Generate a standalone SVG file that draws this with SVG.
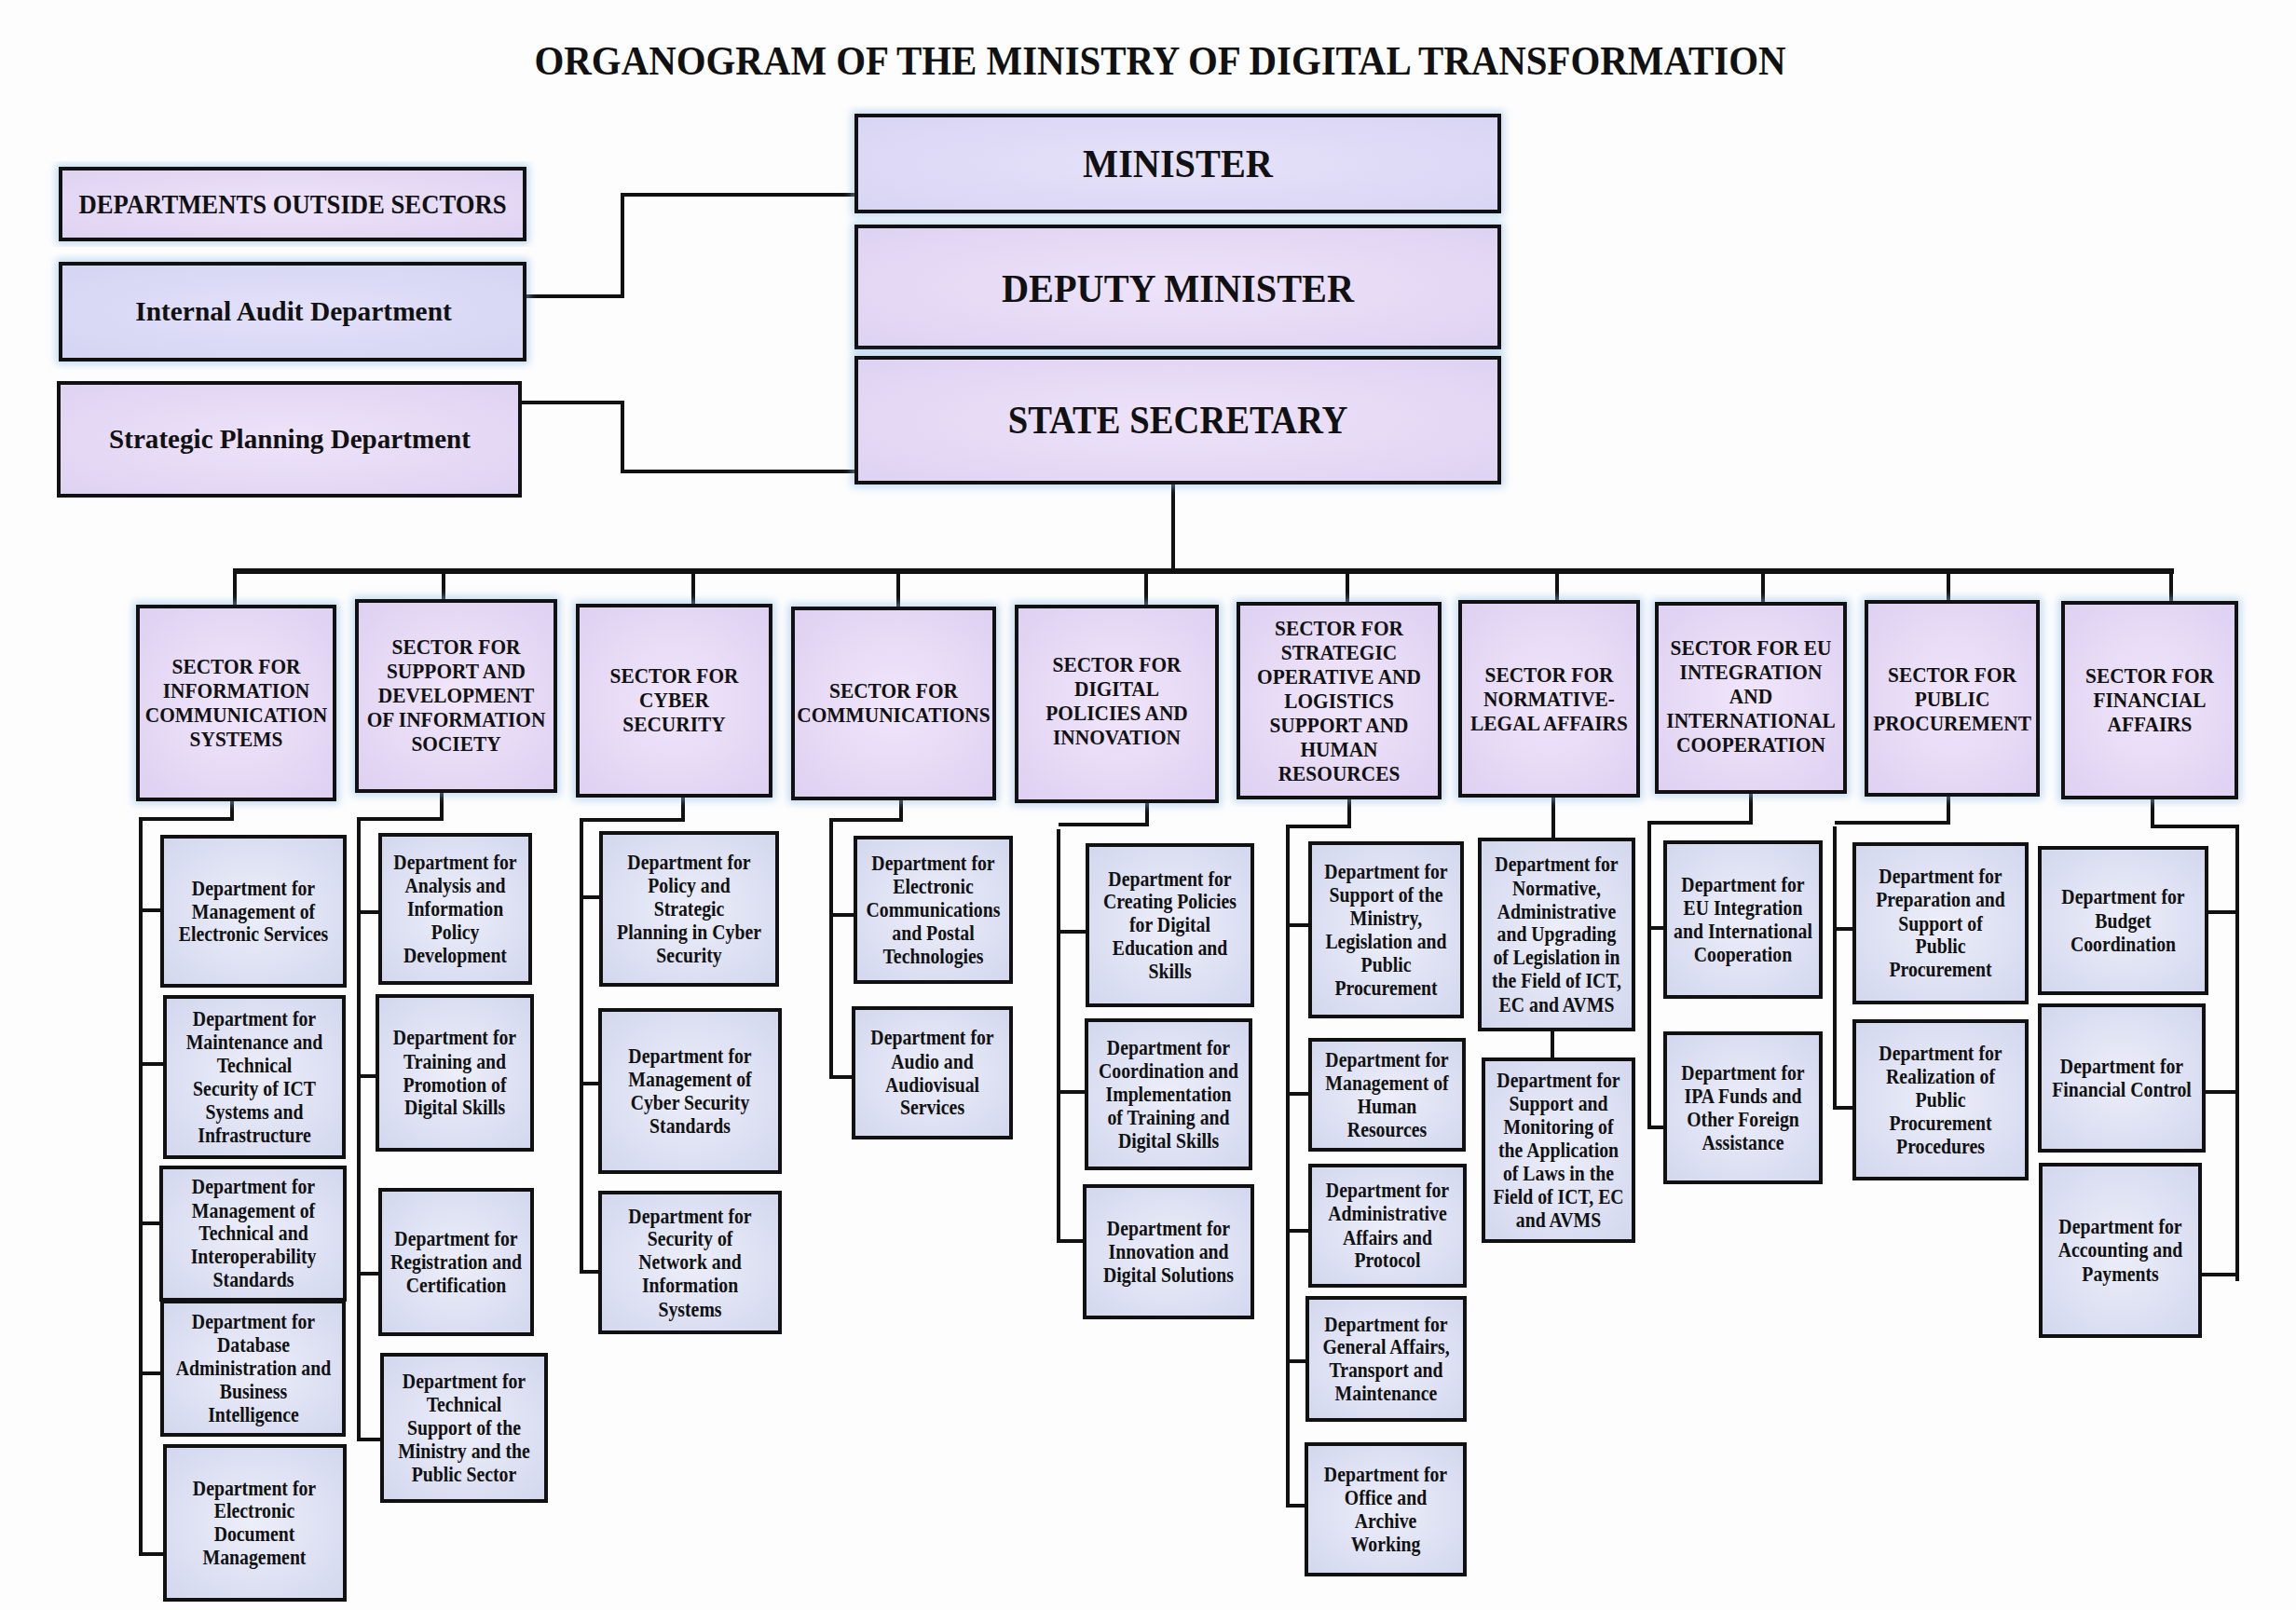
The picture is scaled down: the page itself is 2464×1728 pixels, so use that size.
<svg xmlns="http://www.w3.org/2000/svg" width="2464" height="1728" viewBox="0 0 2464 1728">
<style>
.t{font-family:"Liberation Serif","Times New Roman",serif;font-weight:bold;fill:#111;text-anchor:middle;dominant-baseline:central}
.t tspan{dominant-baseline:central}
.sec{font-size:23px}
.dep{font-size:23px}
.box{stroke:#111;stroke-width:4}
.halo{fill:none;stroke:#8fbce8;stroke-width:10;opacity:.55;filter:url(#glow)}
.con{fill:none;stroke:#111;stroke-width:4;stroke-linejoin:miter}
.bus{fill:none;stroke:#111;stroke-width:6}
</style>
<defs>
<filter id="glow" x="-10%" y="-10%" width="120%" height="120%"><feGaussianBlur stdDeviation="4"/></filter>
<radialGradient id="gDep" cx="50%" cy="50%" r="70%"><stop offset="0" stop-color="#eceef9"/><stop offset="1" stop-color="#d3d7ee"/></radialGradient>
<radialGradient id="gSec" cx="50%" cy="50%" r="70%"><stop offset="0" stop-color="#f1e6fb"/><stop offset="1" stop-color="#ddd0f1"/></radialGradient>
<radialGradient id="gMin" cx="50%" cy="50%" r="70%"><stop offset="0" stop-color="#e6e2f9"/><stop offset="1" stop-color="#d8d4f4"/></radialGradient>
<radialGradient id="gPur" cx="50%" cy="50%" r="70%"><stop offset="0" stop-color="#eee3f9"/><stop offset="1" stop-color="#ded2f2"/></radialGradient>
<radialGradient id="gAud" cx="50%" cy="50%" r="70%"><stop offset="0" stop-color="#e3e1f9"/><stop offset="1" stop-color="#d4d4f3"/></radialGradient>
</defs>
<rect width="2464" height="1728" fill="#fdfdfd"/>

<text class="t" x="1245" y="65" font-size="45" textLength="1343" lengthAdjust="spacingAndGlyphs">ORGANOGRAM OF THE MINISTRY OF DIGITAL TRANSFORMATION</text>

<g id="connectors">
<polyline class="con" points="563,318 668,318 668,209 919,209"/>
<polyline class="con" points="558,432 668,432 668,506 919,506"/>
<line class="con" x1="1259" y1="518" x2="1259" y2="613"/>
<line class="bus" x1="250" y1="613" x2="2333" y2="613"/>
<line class="con" x1="252" y1="613" x2="252" y2="651"/>
<line class="con" x1="476" y1="613" x2="476" y2="645"/>
<line class="con" x1="744" y1="613" x2="744" y2="650"/>
<line class="con" x1="964" y1="613" x2="964" y2="653"/>
<line class="con" x1="1230" y1="613" x2="1230" y2="651"/>
<line class="con" x1="1446" y1="613" x2="1446" y2="648"/>
<line class="con" x1="1671" y1="613" x2="1671" y2="646"/>
<line class="con" x1="1892" y1="613" x2="1892" y2="648"/>
<line class="con" x1="2091" y1="613" x2="2091" y2="646"/>
<line class="con" x1="2330" y1="613" x2="2330" y2="647"/>
<!-- col 1 -->
<polyline class="con" points="249,858 249,879 151,879 151,1668 177,1668"/>
<line class="con" x1="151" y1="977" x2="174" y2="977"/>
<line class="con" x1="151" y1="1142" x2="177" y2="1142"/>
<line class="con" x1="151" y1="1313" x2="173" y2="1313"/>
<line class="con" x1="151" y1="1474" x2="174" y2="1474"/>
<!-- col 2 -->
<polyline class="con" points="474,849 474,879 385,879 385,1545 410,1545"/>
<line class="con" x1="385" y1="979" x2="408" y2="979"/>
<line class="con" x1="385" y1="1155" x2="405" y2="1155"/>
<line class="con" x1="385" y1="1367" x2="408" y2="1367"/>
<!-- col 3 -->
<polyline class="con" points="733,854 733,880 624,880 624,1365 644,1365"/>
<line class="con" x1="624" y1="963" x2="645" y2="963"/>
<line class="con" x1="624" y1="1163" x2="644" y2="1163"/>
<!-- col 4 -->
<polyline class="con" points="967,857 967,880 892,880 892,1156 916,1156"/>
<line class="con" x1="892" y1="982" x2="918" y2="982"/>
<!-- col 5 -->
<polyline class="con" points="1231,860 1231,885 1136,885"/>
<polyline class="con" points="1136,890 1136,1332 1164,1332"/>
<line class="con" x1="1136" y1="1000" x2="1167" y2="1000"/>
<line class="con" x1="1136" y1="1172" x2="1166" y2="1172"/>
<!-- col 6 -->
<polyline class="con" points="1448,856 1448,887 1382,887 1382,1616 1402,1616"/>
<line class="con" x1="1382" y1="993" x2="1406" y2="993"/>
<line class="con" x1="1382" y1="1174" x2="1406" y2="1174"/>
<line class="con" x1="1382" y1="1321" x2="1406" y2="1321"/>
<line class="con" x1="1382" y1="1461" x2="1403" y2="1461"/>
<!-- col 7 -->
<line class="con" x1="1667" y1="854" x2="1667" y2="901"/>
<line class="con" x1="1666" y1="1105" x2="1666" y2="1137"/>
<!-- col 8 -->
<polyline class="con" points="1879,850 1879,883 1770,883 1770,1210 1787,1210"/>
<line class="con" x1="1770" y1="996" x2="1787" y2="996"/>
<!-- col 9 -->
<polyline class="con" points="2091,853 2091,883 1969,883"/>
<polyline class="con" points="1969,887 1969,1189 1990,1189"/>
<line class="con" x1="1969" y1="997" x2="1990" y2="997"/>
<!-- col 10 -->
<polyline class="con" points="2310,856 2310,887 2401,887 2401,1375"/>
<line class="con" x1="2368" y1="979" x2="2401" y2="979"/>
<line class="con" x1="2365" y1="1172" x2="2401" y2="1172"/>
<line class="con" x1="2361" y1="1368" x2="2401" y2="1368"/>
</g>

<!-- top level -->
<g id="outside-sectors">
<rect class="halo" x="65" y="181" width="498" height="76"/>
<rect class="box" x="65" y="181" width="498" height="76" fill="url(#gPur)"/>
<g transform="translate(314 0) scale(0.89 1)"><text class="t" x="0" y="219" font-size="30">DEPARTMENTS OUTSIDE SECTORS</text></g>
</g>
<g id="internal-audit">
<rect class="halo" x="65" y="283" width="498" height="103"/>
<rect class="box" x="65" y="283" width="498" height="103" fill="url(#gAud)"/>
<g transform="translate(315 0) scale(0.98 1)"><text class="t" x="0" y="334" font-size="30">Internal Audit Department</text></g>
</g>
<g id="strategic-planning">
<rect class="box" x="63" y="411" width="495" height="121" fill="url(#gPur)"/>
<g transform="translate(311 0) scale(0.97 1)"><text class="t" x="0" y="471" font-size="30">Strategic Planning Department</text></g>
</g>
<g id="minister">
<rect class="halo" x="919" y="124" width="690" height="103"/>
<rect class="box" x="919" y="124" width="690" height="103" fill="url(#gMin)"/>
<g transform="translate(1264 0) scale(0.96 1)"><text class="t" x="0" y="176" font-size="42">MINISTER</text></g>
</g>
<g id="deputy-minister">
<rect class="halo" x="919" y="243" width="690" height="130"/>
<rect class="box" x="919" y="243" width="690" height="130" fill="url(#gPur)"/>
<g transform="translate(1264 0) scale(0.96 1)"><text class="t" x="0" y="310" font-size="42">DEPUTY MINISTER</text></g>
</g>
<g id="state-secretary">
<rect class="halo" x="919" y="384" width="690" height="134"/>
<rect class="box" x="919" y="384" width="690" height="134" fill="url(#gPur)"/>
<g transform="translate(1264 0) scale(0.92 1)"><text class="t" x="0" y="451" font-size="42">STATE SECRETARY</text></g>
</g>

<!-- sectors -->
<g id="sector-ics">
<rect class="halo" x="148" y="651" width="211" height="207"/>
<rect class="box" x="148" y="651" width="211" height="207" fill="url(#gSec)"/>
<g transform="translate(253.5 0) scale(0.93 1)"><text class="t sec"><tspan x="0" y="715">SECTOR FOR</tspan><tspan x="0" y="741">INFORMATION</tspan><tspan x="0" y="767">COMMUNICATION</tspan><tspan x="0" y="793">SYSTEMS</tspan></text></g>
</g>
<g id="sector-support">
<rect class="halo" x="383" y="645" width="213" height="204"/>
<rect class="box" x="383" y="645" width="213" height="204" fill="url(#gSec)"/>
<g transform="translate(489.5 0) scale(0.93 1)"><text class="t sec"><tspan x="0" y="694">SECTOR FOR</tspan><tspan x="0" y="720">SUPPORT AND</tspan><tspan x="0" y="746">DEVELOPMENT</tspan><tspan x="0" y="772">OF INFORMATION</tspan><tspan x="0" y="798">SOCIETY</tspan></text></g>
</g>
<g id="sector-cyber">
<rect class="halo" x="620" y="650" width="207" height="204"/>
<rect class="box" x="620" y="650" width="207" height="204" fill="url(#gSec)"/>
<g transform="translate(723.5 0) scale(0.93 1)"><text class="t sec"><tspan x="0" y="725">SECTOR FOR</tspan><tspan x="0" y="751">CYBER</tspan><tspan x="0" y="777">SECURITY</tspan></text></g>
</g>
<g id="sector-comm">
<rect class="halo" x="851" y="653" width="216" height="204"/>
<rect class="box" x="851" y="653" width="216" height="204" fill="url(#gSec)"/>
<g transform="translate(959 0) scale(0.93 1)"><text class="t sec"><tspan x="0" y="741">SECTOR FOR</tspan><tspan x="0" y="767">COMMUNICATIONS</tspan></text></g>
</g>
<g id="sector-digital">
<rect class="halo" x="1091" y="651" width="215" height="209"/>
<rect class="box" x="1091" y="651" width="215" height="209" fill="url(#gSec)"/>
<g transform="translate(1198.5 0) scale(0.93 1)"><text class="t sec"><tspan x="0" y="713">SECTOR FOR</tspan><tspan x="0" y="739">DIGITAL</tspan><tspan x="0" y="765">POLICIES AND</tspan><tspan x="0" y="791">INNOVATION</tspan></text></g>
</g>
<g id="sector-strategic">
<rect class="halo" x="1329" y="648" width="216" height="208"/>
<rect class="box" x="1329" y="648" width="216" height="208" fill="url(#gSec)"/>
<g transform="translate(1437 0) scale(0.93 1)"><text class="t sec"><tspan x="0" y="674">SECTOR FOR</tspan><tspan x="0" y="700">STRATEGIC</tspan><tspan x="0" y="726">OPERATIVE AND</tspan><tspan x="0" y="752">LOGISTICS</tspan><tspan x="0" y="778">SUPPORT AND</tspan><tspan x="0" y="804">HUMAN</tspan><tspan x="0" y="830">RESOURCES</tspan></text></g>
</g>
<g id="sector-normative">
<rect class="halo" x="1567" y="646" width="191" height="208"/>
<rect class="box" x="1567" y="646" width="191" height="208" fill="url(#gSec)"/>
<g transform="translate(1662.5 0) scale(0.93 1)"><text class="t sec"><tspan x="0" y="724">SECTOR FOR</tspan><tspan x="0" y="750">NORMATIVE-</tspan><tspan x="0" y="776">LEGAL AFFAIRS</tspan></text></g>
</g>
<g id="sector-eu">
<rect class="halo" x="1778" y="648" width="202" height="202"/>
<rect class="box" x="1778" y="648" width="202" height="202" fill="url(#gSec)"/>
<g transform="translate(1879 0) scale(0.93 1)"><text class="t sec"><tspan x="0" y="695">SECTOR FOR EU</tspan><tspan x="0" y="721">INTEGRATION</tspan><tspan x="0" y="747">AND</tspan><tspan x="0" y="773">INTERNATIONAL</tspan><tspan x="0" y="799">COOPERATION</tspan></text></g>
</g>
<g id="sector-procurement">
<rect class="halo" x="2003" y="646" width="184" height="207"/>
<rect class="box" x="2003" y="646" width="184" height="207" fill="url(#gSec)"/>
<g transform="translate(2095 0) scale(0.93 1)"><text class="t sec"><tspan x="0" y="724">SECTOR FOR</tspan><tspan x="0" y="750">PUBLIC</tspan><tspan x="0" y="776">PROCUREMENT</tspan></text></g>
</g>
<g id="sector-financial">
<rect class="halo" x="2214" y="647" width="186" height="209"/>
<rect class="box" x="2214" y="647" width="186" height="209" fill="url(#gSec)"/>
<g transform="translate(2307 0) scale(0.93 1)"><text class="t sec"><tspan x="0" y="725">SECTOR FOR</tspan><tspan x="0" y="751">FINANCIAL</tspan><tspan x="0" y="777">AFFAIRS</tspan></text></g>
</g>

<!-- column 1 -->
<g id="d-electronic-services">
<rect class="box" x="174" y="898" width="196" height="160" fill="url(#gDep)"/>
<g transform="translate(272 0) scale(0.86 1)"><text class="t dep"><tspan x="0" y="953">Department for</tspan><tspan x="0" y="978">Management of</tspan><tspan x="0" y="1003">Electronic Services</tspan></text></g>
</g>
<g id="d-maintenance">
<rect class="box" x="177" y="1070" width="192" height="172" fill="url(#gDep)"/>
<g transform="translate(273 0) scale(0.86 1)"><text class="t dep"><tspan x="0" y="1093.5">Department for</tspan><tspan x="0" y="1118.5">Maintenance and</tspan><tspan x="0" y="1143.5">Technical</tspan><tspan x="0" y="1168.5">Security of ICT</tspan><tspan x="0" y="1193.5">Systems and</tspan><tspan x="0" y="1218.5">Infrastructure</tspan></text></g>
</g>
<g id="d-interoperability">
<rect class="box" x="173" y="1253" width="197" height="142" fill="url(#gDep)"/>
<g transform="translate(272 0) scale(0.86 1)"><text class="t dep"><tspan x="0" y="1274">Department for</tspan><tspan x="0" y="1299">Management of</tspan><tspan x="0" y="1324">Technical and</tspan><tspan x="0" y="1349">Interoperability</tspan><tspan x="0" y="1374">Standards</tspan></text></g>
</g>
<g id="d-database">
<rect class="box" x="174" y="1397" width="195" height="143" fill="url(#gDep)"/>
<g transform="translate(272 0) scale(0.86 1)"><text class="t dep"><tspan x="0" y="1418.5">Department for</tspan><tspan x="0" y="1443.5">Database</tspan><tspan x="0" y="1468.5">Administration and</tspan><tspan x="0" y="1493.5">Business</tspan><tspan x="0" y="1518.5">Intelligence</tspan></text></g>
</g>
<g id="d-document">
<rect class="box" x="177" y="1552" width="193" height="165" fill="url(#gDep)"/>
<g transform="translate(273 0) scale(0.86 1)"><text class="t dep"><tspan x="0" y="1597">Department for</tspan><tspan x="0" y="1622">Electronic</tspan><tspan x="0" y="1647">Document</tspan><tspan x="0" y="1672">Management</tspan></text></g>
</g>

<!-- column 2 -->
<g id="d-analysis">
<rect class="box" x="408" y="896" width="161" height="159" fill="url(#gDep)"/>
<g transform="translate(488.5 0) scale(0.86 1)"><text class="t dep"><tspan x="0" y="925.5">Department for</tspan><tspan x="0" y="950.5">Analysis and</tspan><tspan x="0" y="975.5">Information</tspan><tspan x="0" y="1000.5">Policy</tspan><tspan x="0" y="1025.5">Development</tspan></text></g>
</g>
<g id="d-training">
<rect class="box" x="405" y="1069" width="166" height="165" fill="url(#gDep)"/>
<g transform="translate(488 0) scale(0.86 1)"><text class="t dep"><tspan x="0" y="1114">Department for</tspan><tspan x="0" y="1139">Training and</tspan><tspan x="0" y="1164">Promotion of</tspan><tspan x="0" y="1189">Digital Skills</tspan></text></g>
</g>
<g id="d-registration">
<rect class="box" x="408" y="1277" width="163" height="155" fill="url(#gDep)"/>
<g transform="translate(489.5 0) scale(0.86 1)"><text class="t dep"><tspan x="0" y="1329.5">Department for</tspan><tspan x="0" y="1354.5">Registration and</tspan><tspan x="0" y="1379.5">Certification</tspan></text></g>
</g>
<g id="d-technical-support">
<rect class="box" x="410" y="1454" width="176" height="157" fill="url(#gDep)"/>
<g transform="translate(498 0) scale(0.86 1)"><text class="t dep"><tspan x="0" y="1482.5">Department for</tspan><tspan x="0" y="1507.5">Technical</tspan><tspan x="0" y="1532.5">Support of the</tspan><tspan x="0" y="1557.5">Ministry and the</tspan><tspan x="0" y="1582.5">Public Sector</tspan></text></g>
</g>

<!-- column 3 -->
<g id="d-cyber-policy">
<rect class="box" x="645" y="894" width="189" height="163" fill="url(#gDep)"/>
<g transform="translate(739.5 0) scale(0.86 1)"><text class="t dep"><tspan x="0" y="925.5">Department for</tspan><tspan x="0" y="950.5">Policy and</tspan><tspan x="0" y="975.5">Strategic</tspan><tspan x="0" y="1000.5">Planning in Cyber</tspan><tspan x="0" y="1025.5">Security</tspan></text></g>
</g>
<g id="d-cyber-standards">
<rect class="box" x="644" y="1084" width="193" height="174" fill="url(#gDep)"/>
<g transform="translate(740.5 0) scale(0.86 1)"><text class="t dep"><tspan x="0" y="1133.5">Department for</tspan><tspan x="0" y="1158.5">Management of</tspan><tspan x="0" y="1183.5">Cyber Security</tspan><tspan x="0" y="1208.5">Standards</tspan></text></g>
</g>
<g id="d-network-security">
<rect class="box" x="644" y="1280" width="193" height="150" fill="url(#gDep)"/>
<g transform="translate(740.5 0) scale(0.86 1)"><text class="t dep"><tspan x="0" y="1305">Department for</tspan><tspan x="0" y="1330">Security of</tspan><tspan x="0" y="1355">Network and</tspan><tspan x="0" y="1380">Information</tspan><tspan x="0" y="1405">Systems</tspan></text></g>
</g>

<!-- column 4 -->
<g id="d-electronic-comm">
<rect class="box" x="918" y="899" width="167" height="155" fill="url(#gDep)"/>
<g transform="translate(1001.5 0) scale(0.86 1)"><text class="t dep"><tspan x="0" y="926.5">Department for</tspan><tspan x="0" y="951.5">Electronic</tspan><tspan x="0" y="976.5">Communications</tspan><tspan x="0" y="1001.5">and Postal</tspan><tspan x="0" y="1026.5">Technologies</tspan></text></g>
</g>
<g id="d-audio">
<rect class="box" x="916" y="1082" width="169" height="139" fill="url(#gDep)"/>
<g transform="translate(1000.5 0) scale(0.86 1)"><text class="t dep"><tspan x="0" y="1114">Department for</tspan><tspan x="0" y="1139">Audio and</tspan><tspan x="0" y="1164">Audiovisual</tspan><tspan x="0" y="1189">Services</tspan></text></g>
</g>

<!-- column 5 -->
<g id="d-creating-policies">
<rect class="box" x="1167" y="907" width="177" height="172" fill="url(#gDep)"/>
<g transform="translate(1255.5 0) scale(0.86 1)"><text class="t dep"><tspan x="0" y="943">Department for</tspan><tspan x="0" y="968">Creating Policies</tspan><tspan x="0" y="993">for Digital</tspan><tspan x="0" y="1018">Education and</tspan><tspan x="0" y="1043">Skills</tspan></text></g>
</g>
<g id="d-coordination">
<rect class="box" x="1166" y="1095" width="176" height="159" fill="url(#gDep)"/>
<g transform="translate(1254 0) scale(0.86 1)"><text class="t dep"><tspan x="0" y="1124.5">Department for</tspan><tspan x="0" y="1149.5">Coordination and</tspan><tspan x="0" y="1174.5">Implementation</tspan><tspan x="0" y="1199.5">of Training and</tspan><tspan x="0" y="1224.5">Digital Skills</tspan></text></g>
</g>
<g id="d-innovation">
<rect class="box" x="1164" y="1273" width="180" height="141" fill="url(#gDep)"/>
<g transform="translate(1254 0) scale(0.86 1)"><text class="t dep"><tspan x="0" y="1318.5">Department for</tspan><tspan x="0" y="1343.5">Innovation and</tspan><tspan x="0" y="1368.5">Digital Solutions</tspan></text></g>
</g>

<!-- column 6 -->
<g id="d-support-ministry">
<rect class="box" x="1406" y="905" width="163" height="186" fill="url(#gDep)"/>
<g transform="translate(1487.5 0) scale(0.86 1)"><text class="t dep"><tspan x="0" y="935.5">Department for</tspan><tspan x="0" y="960.5">Support of the</tspan><tspan x="0" y="985.5">Ministry,</tspan><tspan x="0" y="1010.5">Legislation and</tspan><tspan x="0" y="1035.5">Public</tspan><tspan x="0" y="1060.5">Procurement</tspan></text></g>
</g>
<g id="d-human-resources">
<rect class="box" x="1406" y="1116" width="165" height="118" fill="url(#gDep)"/>
<g transform="translate(1488.5 0) scale(0.86 1)"><text class="t dep"><tspan x="0" y="1137.5">Department for</tspan><tspan x="0" y="1162.5">Management of</tspan><tspan x="0" y="1187.5">Human</tspan><tspan x="0" y="1212.5">Resources</tspan></text></g>
</g>
<g id="d-administrative">
<rect class="box" x="1406" y="1251" width="166" height="129" fill="url(#gDep)"/>
<g transform="translate(1489 0) scale(0.86 1)"><text class="t dep"><tspan x="0" y="1278">Department for</tspan><tspan x="0" y="1303">Administrative</tspan><tspan x="0" y="1328">Affairs and</tspan><tspan x="0" y="1353">Protocol</tspan></text></g>
</g>
<g id="d-general-affairs">
<rect class="box" x="1403" y="1393" width="169" height="131" fill="url(#gDep)"/>
<g transform="translate(1487.5 0) scale(0.86 1)"><text class="t dep"><tspan x="0" y="1421">Department for</tspan><tspan x="0" y="1446">General Affairs,</tspan><tspan x="0" y="1471">Transport and</tspan><tspan x="0" y="1496">Maintenance</tspan></text></g>
</g>
<g id="d-office-archive">
<rect class="box" x="1402" y="1550" width="170" height="140" fill="url(#gDep)"/>
<g transform="translate(1487 0) scale(0.86 1)"><text class="t dep"><tspan x="0" y="1582.5">Department for</tspan><tspan x="0" y="1607.5">Office and</tspan><tspan x="0" y="1632.5">Archive</tspan><tspan x="0" y="1657.5">Working</tspan></text></g>
</g>

<!-- column 7 -->
<g id="d-normative">
<rect class="box" x="1588" y="901" width="165" height="204" fill="url(#gDep)"/>
<g transform="translate(1670.5 0) scale(0.86 1)"><text class="t dep"><tspan x="0" y="928">Department for</tspan><tspan x="0" y="953">Normative,</tspan><tspan x="0" y="978">Administrative</tspan><tspan x="0" y="1003">and Upgrading</tspan><tspan x="0" y="1028">of Legislation in</tspan><tspan x="0" y="1053">the Field of ICT,</tspan><tspan x="0" y="1078">EC and AVMS</tspan></text></g>
</g>
<g id="d-monitoring">
<rect class="box" x="1592" y="1137" width="161" height="195" fill="url(#gDep)"/>
<g transform="translate(1672.5 0) scale(0.86 1)"><text class="t dep"><tspan x="0" y="1159.5">Department for</tspan><tspan x="0" y="1184.5">Support and</tspan><tspan x="0" y="1209.5">Monitoring of</tspan><tspan x="0" y="1234.5">the Application</tspan><tspan x="0" y="1259.5">of Laws in the</tspan><tspan x="0" y="1284.5">Field of ICT, EC</tspan><tspan x="0" y="1309.5">and AVMS</tspan></text></g>
</g>

<!-- column 8 -->
<g id="d-eu-integration">
<rect class="box" x="1787" y="904" width="167" height="166" fill="url(#gDep)"/>
<g transform="translate(1870.5 0) scale(0.86 1)"><text class="t dep"><tspan x="0" y="949.5">Department for</tspan><tspan x="0" y="974.5">EU Integration</tspan><tspan x="0" y="999.5">and International</tspan><tspan x="0" y="1024.5">Cooperation</tspan></text></g>
</g>
<g id="d-ipa-funds">
<rect class="box" x="1787" y="1109" width="167" height="160" fill="url(#gDep)"/>
<g transform="translate(1870.5 0) scale(0.86 1)"><text class="t dep"><tspan x="0" y="1151.5">Department for</tspan><tspan x="0" y="1176.5">IPA Funds and</tspan><tspan x="0" y="1201.5">Other Foreign</tspan><tspan x="0" y="1226.5">Assistance</tspan></text></g>
</g>

<!-- column 9 -->
<g id="d-preparation">
<rect class="box" x="1990" y="906" width="185" height="170" fill="url(#gDep)"/>
<g transform="translate(2082.5 0) scale(0.86 1)"><text class="t dep"><tspan x="0" y="941">Department for</tspan><tspan x="0" y="966">Preparation and</tspan><tspan x="0" y="991">Support of</tspan><tspan x="0" y="1016">Public</tspan><tspan x="0" y="1041">Procurement</tspan></text></g>
</g>
<g id="d-realization">
<rect class="box" x="1990" y="1096" width="185" height="169" fill="url(#gDep)"/>
<g transform="translate(2082.5 0) scale(0.86 1)"><text class="t dep"><tspan x="0" y="1130.5">Department for</tspan><tspan x="0" y="1155.5">Realization of</tspan><tspan x="0" y="1180.5">Public</tspan><tspan x="0" y="1205.5">Procurement</tspan><tspan x="0" y="1230.5">Procedures</tspan></text></g>
</g>

<!-- column 10 -->
<g id="d-budget">
<rect class="box" x="2189" y="910" width="179" height="156" fill="url(#gDep)"/>
<g transform="translate(2278.5 0) scale(0.86 1)"><text class="t dep"><tspan x="0" y="963">Department for</tspan><tspan x="0" y="988">Budget</tspan><tspan x="0" y="1013">Coordination</tspan></text></g>
</g>
<g id="d-financial-control">
<rect class="box" x="2189" y="1079" width="176" height="156" fill="url(#gDep)"/>
<g transform="translate(2277 0) scale(0.86 1)"><text class="t dep"><tspan x="0" y="1144.5">Department for</tspan><tspan x="0" y="1169.5">Financial Control</tspan></text></g>
</g>
<g id="d-accounting">
<rect class="box" x="2190" y="1250" width="171" height="184" fill="url(#gDep)"/>
<g transform="translate(2275.5 0) scale(0.86 1)"><text class="t dep"><tspan x="0" y="1317">Department for</tspan><tspan x="0" y="1342">Accounting and</tspan><tspan x="0" y="1367">Payments</tspan></text></g>
</g>
</svg>
